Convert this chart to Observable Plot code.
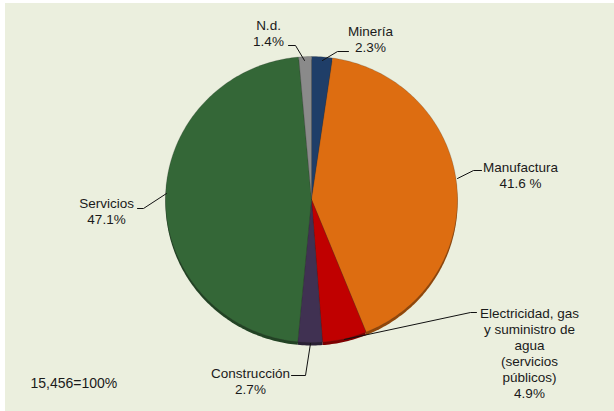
<!DOCTYPE html>
<html>
<head>
<meta charset="utf-8">
<script src="https://cdn.jsdelivr.net/npm/d3@7"></script>
<script src="https://cdn.jsdelivr.net/npm/@observablehq/plot@0.6"></script>
<style>
  html, body { margin: 0; padding: 0; background: #ffffff; }
  #chart svg { display: block; font-family: "Liberation Sans", Arial, sans-serif; }
</style>
</head>
<body>
<div id="chart"></div>
<script>
// ---- data ----
const sectors = ["Minería", "Manufactura", "Electricidad, gas y suministro de agua (servicios públicos)", "Construcción", "Servicios", "N.d."];
const shares = [2.3, 41.6, 4.9, 2.7, 47.1, 1.4];
const shareLabels = ["2.3%", "41.6 %", "4.9%", "2.7%", "47.1%", "1.4%"];
const labelLines = [
  ["Minería", "2.3%"],
  ["Manufactura", "41.6 %"],
  ["Electricidad, gas", "y suministro de", "agua", "(servicios", "públicos)", "4.9%"],
  ["Construcción", "2.7%"],
  ["Servicios", "47.1%"],
  ["N.d.", "1.4%"]
];
const colors = ["#1F3E68", "#DD6D11", "#C00000", "#403152", "#346737", "#8A8A8A"];
const totalNote = "15,456=100%";

// ---- layout ----
const W = 614, H = 411;
const cx = 311, cy = 199, rx = 146, ry = 143;
// label anchor (center x, first line y), leader polyline
const labelPos = [
  {x: 370, y: 31, lead: [[348, 51], [337, 51], [322, 60]]},
  {x: 520, y: 167, lead: [[481, 170], [473, 170], [457, 178]]},
  {x: 529, y: 313, lead: [[476, 312], [470, 312], [344, 339]]},
  {x: 250, y: 373, lead: [[291, 375], [305, 375], [310, 343]]},
  {x: 106, y: 203, lead: [[137, 208], [143, 208], [166, 193]]},
  {x: 268, y: 25, lead: [[288, 45], [295, 45], [304, 60]]}
];

const pie = d3.pie().sort(null).value(d => d)(shares);
const polys = [];
pie.forEach((p, i) => {
  const n = Math.max(4, Math.ceil((p.endAngle - p.startAngle) * 60));
  const pts = [[cx, cy]];
  for (let k = 0; k <= n; k++) {
    const a = p.startAngle + (p.endAngle - p.startAngle) * k / n;
    pts.push([cx + rx * Math.sin(a), cy - ry * Math.cos(a)]);
  }
  pts.push([cx, cy]);
  pts.forEach(([x, y]) => polys.push({i, x, y}));
});

const leaders = [];
labelPos.forEach((l, i) => l.lead.forEach(([x, y]) => leaders.push({i, x, y})));

const texts = [];
labelLines.forEach((lines, i) => lines.forEach((t, j) => texts.push({i, t, x: labelPos[i].x, y: labelPos[i].y + j * 16})));

const marks = [
  Plot.rect([{x1: 5, x2: W, y1: 3, y2: H}], {x1: "x1", x2: "x2", y1: "y1", y2: "y2", fill: "#EBEFDE"})
];
// 3D thickness (shadow)
sectors.forEach((s, i) => {
  marks.push(Plot.line(polys.filter(d => d.i === i), {x: "x", y: "y", fill: d3.color(colors[i]).darker(1.2).formatHex(), stroke: "none", dy: 3}));
});
sectors.forEach((s, i) => {
  marks.push(Plot.line(polys.filter(d => d.i === i), {x: "x", y: "y", fill: colors[i], stroke: "#2a2a2a", strokeOpacity: 0.35, strokeWidth: 0.6}));
});
marks.push(Plot.line(leaders, {x: "x", y: "y", z: "i", stroke: "#111", strokeWidth: 1}));
marks.push(Plot.text(texts, {x: "x", y: "y", text: "t", fontSize: 13.5, fill: "#1a1a1a", textAnchor: "middle"}));
marks.push(Plot.text([totalNote], {x: 30, y: 383, text: d => d, fontSize: 14, fill: "#1a1a1a", textAnchor: "start"}));

const chart = Plot.plot({
  width: W, height: H,
  margin: 0,
  x: {domain: [0, W], range: [0, W], axis: null},
  y: {domain: [0, H], range: [0, H], axis: null},
  style: {background: "#ffffff", fontFamily: "Liberation Sans, Arial, sans-serif"},
  marks
});
document.getElementById("chart").appendChild(chart);
</script>
</body>
</html>
